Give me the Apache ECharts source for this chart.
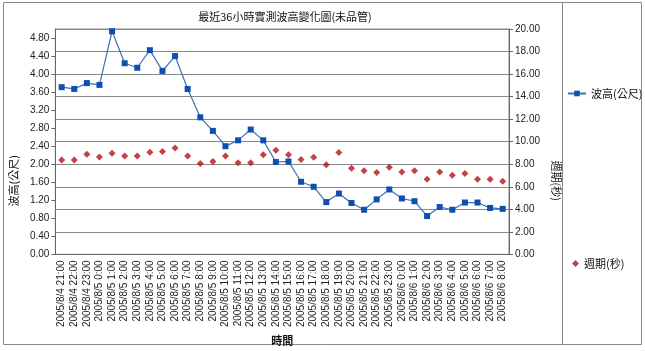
<!DOCTYPE html>
<html>
<head>
<meta charset="utf-8">
<script src="https://cdn.jsdelivr.net/npm/echarts@6/dist/echarts.min.js"></script>
<style>
  html, body { margin: 0; padding: 0; background: #fff; }
  #main { width: 645px; height: 351px; }
</style>
</head>
<body>
<div id="main"></div>
<script>
const times = [
  '2005/8/4 21:00', '2005/8/4 22:00', '2005/8/4 23:00', '2005/8/5 0:00', '2005/8/5 1:00', '2005/8/5 2:00',
  '2005/8/5 3:00', '2005/8/5 4:00', '2005/8/5 5:00', '2005/8/5 6:00', '2005/8/5 7:00', '2005/8/5 8:00',
  '2005/8/5 9:00', '2005/8/5 10:00', '2005/8/5 11:00', '2005/8/5 12:00', '2005/8/5 13:00', '2005/8/5 14:00',
  '2005/8/5 15:00', '2005/8/5 16:00', '2005/8/5 17:00', '2005/8/5 18:00', '2005/8/5 19:00', '2005/8/5 20:00',
  '2005/8/5 21:00', '2005/8/5 22:00', '2005/8/5 23:00', '2005/8/6 0:00', '2005/8/6 1:00', '2005/8/6 2:00',
  '2005/8/6 3:00', '2005/8/6 4:00', '2005/8/6 5:00', '2005/8/6 6:00', '2005/8/6 7:00', '2005/8/6 8:00'
];
// 波高 (m)
const waveHeight = [
  3.71, 3.67, 3.80, 3.76, 4.95, 4.24, 4.14, 4.53, 4.07, 4.40, 3.67, 3.04,
  2.74, 2.40, 2.53, 2.77, 2.53, 2.05, 2.06, 1.61, 1.50, 1.16, 1.35, 1.14,
  0.99, 1.22, 1.44, 1.24, 1.18, 0.85, 1.05, 0.99, 1.15, 1.15, 1.03, 1.01
];
// 週期 (s)
const period = [
  8.38, 8.38, 8.89, 8.65, 8.98, 8.74, 8.74, 9.07, 9.13, 9.45, 8.74, 8.06,
  8.24, 8.74, 8.12, 8.12, 8.85, 9.23, 8.85, 8.43, 8.61, 7.96, 9.03, 7.64,
  7.41, 7.26, 7.73, 7.32, 7.41, 6.66, 7.32, 7.02, 7.17, 6.66, 6.66, 6.49
];

const cjk = '"Noto Sans CJK TC", "Noto Sans CJK SC", sans-serif';
const num = '"Liberation Sans", "DejaVu Sans", sans-serif';
const red = '#b8101a';

const chart = echarts.init(document.getElementById('main'), null, { renderer: 'canvas' });

chart.setOption({
  animation: false,
  backgroundColor: '#fff',
  title: {
    text: '最近36小時實測波高變化圖(未品管)',
    left: 280,
    top: 6,
    textAlign: 'center',
    textStyle: { fontFamily: cjk, fontSize: 11, fontWeight: 'normal', color: '#111' }
  },
  // two legends so the diamond can keep its own small size
  legend: [
    {
      orient: 'vertical',
      left: 562,
      top: 83,
      itemWidth: 18,
      itemHeight: 7,
      itemGap: 4,
      textStyle: { fontFamily: cjk, fontSize: 11, color: '#111' },
      data: ['波高(公尺)']
    },
    {
      orient: 'vertical',
      left: 567,
      top: 253,
      itemWidth: 7,
      itemHeight: 7,
      itemGap: 4,
      textStyle: { fontFamily: cjk, fontSize: 11, color: '#111' },
      data: [{ name: '週期(秒)', icon: 'diamond' }]
    }
  ],
  grid: { left: 50, right: 136, top: 29, bottom: 95, show: true, borderColor: '#888', borderWidth: 1 },
  xAxis: {
    type: 'category',
    data: times,
    name: '時間',
    nameLocation: 'middle',
    nameGap: 80,
    nameTextStyle: { fontFamily: cjk, fontSize: 11, fontWeight: 'bold', color: '#111' },
    axisLine: { lineStyle: { color: '#666' } },
    axisTick: { lineStyle: { color: '#666' }, length: 4 },
    axisLabel: { rotate: 90, interval: 0, fontFamily: num, fontSize: 10, color: '#222', margin: 6 }
  },
  yAxis: [
    {
      type: 'value',
      min: 0,
      max: 5,
      interval: 0.4,
      position: 'left',
      name: '波高(公尺)',
      nameLocation: 'middle',
      nameGap: 34,
      nameTextStyle: { fontFamily: cjk, fontSize: 11, color: '#111', padding: [0, 78, 0, 0] },
      splitLine: { show: false },
      axisLine: { show: true, lineStyle: { color: '#666' } },
      axisTick: { show: true, length: 4, lineStyle: { color: '#666' } },
      axisLabel: {
        showMaxLabel: false,
        fontFamily: num, fontSize: 10, color: '#222', margin: 6,
        formatter: v => v.toFixed(2)
      }
    },
    {
      type: 'value',
      min: 0,
      max: 20,
      interval: 2,
      position: 'right',
      name: '週期(秒)',
      nameLocation: 'middle',
      nameRotate: -90,
      nameGap: 40,
      nameTextStyle: { fontFamily: cjk, fontSize: 11, color: '#111', padding: [0, 0, 0, 78] },
      splitLine: { show: true, lineStyle: { color: '#888', width: 1 } },
      axisLine: { show: true, lineStyle: { color: '#666' } },
      axisTick: { show: true, length: 4, lineStyle: { color: '#666' } },
      axisLabel: { fontFamily: num, fontSize: 10, color: '#222', margin: 6, formatter: v => v.toFixed(2) }
    }
  ],
  series: [
    {
      name: '波高(公尺)',
      type: 'line',
      yAxisIndex: 0,
      data: waveHeight,
      symbol: 'rect',
      symbolSize: 6,
      lineStyle: { color: '#3f70b4', width: 1.2 },
      itemStyle: { color: '#0d4fae' }
    },
    {
      name: '週期(秒)',
      type: 'scatter',
      yAxisIndex: 1,
      data: period,
      symbol: 'diamond',
      symbolSize: 7,
      itemStyle: { color: red }
    }
  ],
  graphic: [
    { type: 'rect', shape: { x: 3.5, y: 2.5, width: 638, height: 342 }, style: { fill: null, stroke: '#888', lineWidth: 1 }, silent: true },
    { type: 'line', shape: { x1: 562.5, y1: 2.5, x2: 562.5, y2: 344.5 }, style: { stroke: '#888', lineWidth: 1 }, silent: true }
  ]
});
</script>
</body>
</html>
